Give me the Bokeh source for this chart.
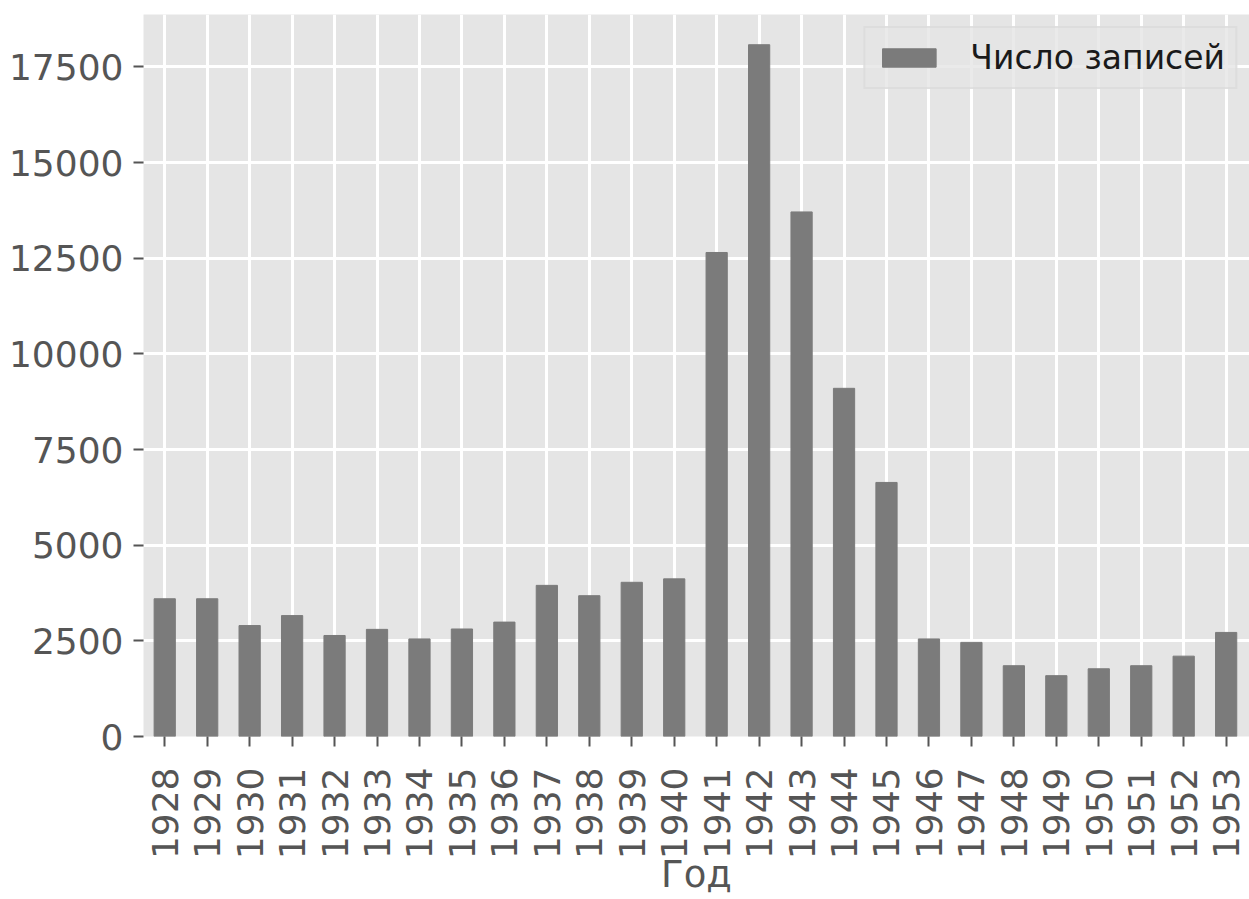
from bokeh.plotting import figure
from bokeh.models import ColumnDataSource, FixedTicker, Range1d, Legend, LegendItem
from bokeh.embed import file_html
from bokeh.resources import INLINE
import math

years = [1928, 1929, 1930, 1931, 1932, 1933, 1934, 1935, 1936, 1937, 1938, 1939, 1940,
         1941, 1942, 1943, 1944, 1945, 1946, 1947, 1948, 1949, 1950, 1951, 1952, 1953]
counts = [3600, 3600, 2900, 3160, 2640, 2800, 2550, 2810, 2990, 3950, 3680, 4030, 4120,
          12650, 18080, 13710, 9100, 6640, 2550, 2460, 1850, 1590, 1770, 1850, 2100, 2720]
y_ticks = [0, 2500, 5000, 7500, 10000, 12500, 15000, 17500]
series_name = "Число записей"
x_label = "Год"

src = ColumnDataSource(data=dict(year=years, count=counts))

FONT = "DejaVu Sans"

p = figure(width=1249, height=899, output_backend="svg", toolbar_location=None,
           x_range=Range1d(1927.5, 1953.55), y_range=Range1d(0, 18870),
           min_border_left=143, min_border_top=14, min_border_right=0, min_border_bottom=163)

p.background_fill_color = "#e5e5e5"
p.border_fill_color = "white"
p.outline_line_color = None

r = p.vbar(x="year", top="count", width=0.5, source=src, fill_color="#7b7b7b",
           line_color="#7b7b7b")

p.xgrid.grid_line_color = "white"
p.xgrid.grid_line_width = 3
p.ygrid.grid_line_color = "white"
p.ygrid.grid_line_width = 3

p.xaxis.ticker = FixedTicker(ticks=years)
p.yaxis.ticker = FixedTicker(ticks=y_ticks)
p.xaxis.major_label_orientation = math.pi / 2

for ax in (p.xaxis[0], p.yaxis[0]):
    ax.axis_line_color = None
    ax.minor_tick_line_color = None
    ax.major_tick_line_color = "#555555"
    ax.major_tick_line_width = 2
    ax.major_tick_in = 0
    ax.major_tick_out = 10
    ax.major_label_text_font = FONT
    ax.major_label_text_font_size = "36px"
    ax.major_label_text_color = "#555555"

p.xaxis.major_label_standoff = 21
p.yaxis.major_label_standoff = 10

p.xaxis.axis_label = x_label
p.xaxis.axis_label_text_font = FONT
p.xaxis.axis_label_text_font_size = "37px"
p.xaxis.axis_label_text_font_style = "normal"
p.xaxis.axis_label_text_color = "#555555"
p.xaxis.axis_label_standoff = -9

legend = Legend(items=[LegendItem(label=series_name, renderers=[r])],
                location="top_right")
legend.label_text_font = FONT
legend.label_text_font_size = "33px"
legend.label_text_color = "#1a1a1a"
legend.background_fill_color = "#e5e5e5"
legend.background_fill_alpha = 0.8
legend.border_line_color = "#d5d5d5"
legend.border_line_width = 2
legend.glyph_width = 67
legend.glyph_height = 23
legend.label_standoff = 28
legend.padding = 10
legend.margin = 12
p.add_layout(legend)

open("out.html", "w").write(file_html(p, INLINE))
